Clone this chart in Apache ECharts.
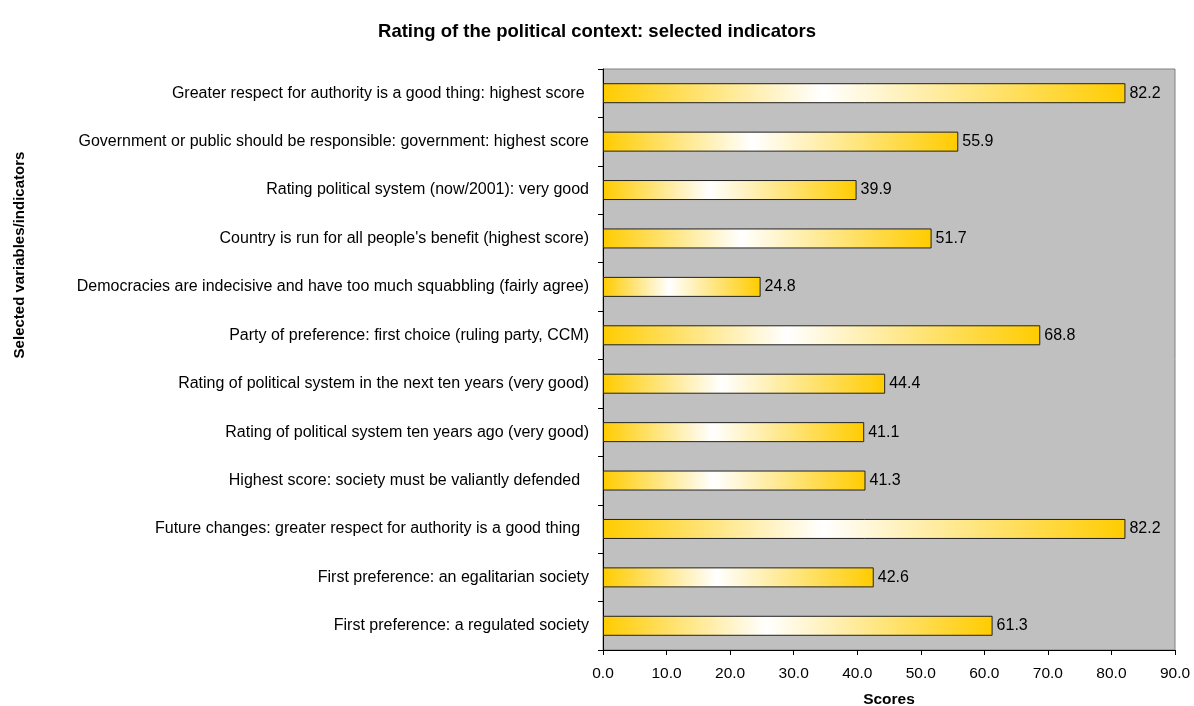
<!DOCTYPE html>
<html>
<head>
<meta charset="utf-8">
<script src="https://cdn.jsdelivr.net/npm/echarts@6/dist/echarts.min.js"></script>
<style>html,body{margin:0;padding:0;background:#fff;}#c{width:1194px;height:706px;}</style>
</head>
<body>
<div id="c"></div>
<script>
const categories = [
  "Greater respect for authority is a good thing: highest score ",
  "Government or public should be responsible: government: highest score",
  "Rating political system (now/2001): very good",
  "Country is run for all people's benefit (highest score)",
  "Democracies are indecisive and have too much squabbling (fairly agree)",
  "Party of preference: first choice (ruling party, CCM)",
  "Rating of political system in the next ten years (very good)",
  "Rating of political system ten years ago (very good)",
  "Highest score: society must be valiantly defended  ",
  "Future changes: greater respect for authority is a good thing  ",
  "First preference: an egalitarian society",
  "First preference: a regulated society"
];
const scores = [82.2, 55.9, 39.9, 51.7, 24.8, 68.8, 44.4, 41.1, 41.3, 82.2, 42.6, 61.3];
const titleText = "Rating of the political context: selected indicators";
const xName = "Scores";
const yName = "Selected variables/indicators";

const chart = echarts.init(document.getElementById('c'));
const font = 'Liberation Sans, Arial, sans-serif';
chart.setOption({
  animation: false,
  title: {
    text: titleText, left: 'center', top: 17,
    textStyle: {fontFamily: font, fontSize: 18.5, fontWeight: 'bold', color: '#000'}
  },
  grid: {
    left: 603, right: 19, top: 69, bottom: 56,
    outerBoundsMode: 'none', containLabel: false,
    show: true, backgroundColor: '#C0C0C0', borderColor: '#808080', borderWidth: 1
  },
  xAxis: {
    type: 'value', min: 0, max: 90, interval: 10,
    name: xName, nameLocation: 'middle', nameGap: 42,
    nameTextStyle: {fontFamily: font, fontSize: 15.5, fontWeight: 'bold', color: '#000'},
    axisLine: {show: true, lineStyle: {color: '#000', width: 1}},
    axisTick: {show: true, length: 5, lineStyle: {color: '#000'}},
    axisLabel: {fontFamily: font, fontSize: 15.5, color: '#000', margin: 16,
      formatter: v => v.toFixed(1)},
    splitLine: {show: false}
  },
  yAxis: {
    type: 'category', data: categories, inverse: true,
    axisLine: {show: true, lineStyle: {color: '#000', width: 1}},
    axisTick: {show: true, length: 5, lineStyle: {color: '#000'}},
    axisLabel: {fontFamily: font, fontSize: 16, color: '#000', margin: 14},
    splitLine: {show: false}
  },
  graphic: [{
    type: 'text',
    rotation: Math.PI / 2,
    x: 20, y: 255,
    style: {text: yName, font: 'bold 15px ' + font, fill: '#000',
      textAlign: 'center', textVerticalAlign: 'middle'}
  }],
  series: [{
    type: 'bar', data: scores, barWidth: 20,
    itemStyle: {
      borderColor: '#222', borderWidth: 1,
      color: new echarts.graphic.LinearGradient(0, 0, 1, 0, [
        {offset: 0, color: '#FFCC00'},
        {offset: 0.42, color: '#FFFFFF'},
        {offset: 1, color: '#FFCC00'}
      ])
    },
    label: {
      show: true, position: 'right', distance: 4,
      fontFamily: font, fontSize: 16, color: '#000',
      formatter: p => p.value.toFixed(1)
    }
  }]
});
</script>
</body>
</html>
